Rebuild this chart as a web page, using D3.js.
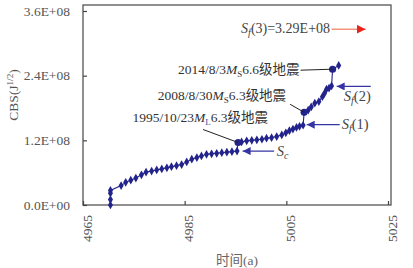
<!DOCTYPE html>
<html>
<head>
<meta charset="utf-8">
<script src="https://cdn.jsdelivr.net/npm/d3@7"></script>
<style>
  body { margin: 0; background: #fff; }
  text { font-family: "Liberation Serif", "Noto Sans CJK SC", serif; }
</style>
</head>
<body>
<div id="chart-area"></div>
<script>
// data (time in a, CBS in J^1/2)
var years = [4970.4, 4970.4, 4970.4, 4970.4, 4972.5, 4973.4, 4974.4, 4975.4, 4976.5, 4977.4,
  4978.5, 4979.5, 4980.5, 4981.5, 4982.4, 4983.4, 4984.4, 4985.4, 4986.4, 4987.4,
  4988.3, 4989.3, 4990.3, 4991.3, 4992.3, 4993.3, 4994.3, 4995.3,
  4995.5, 4996.2, 4997.2, 4998.2, 4999.2, 5000.2, 5001.1, 5002.1, 5003.1, 5004.1,
  5004.9, 5005.6, 5006.3, 5007.0, 5007.6, 5008.3,
  5008.5, 5009.3, 5009.9, 5010.6, 5011.4, 5012.1, 5012.5, 5012.9, 5013.4, 5013.9,
  5014.1, 5015.3];
var cbs = [0, 0.1e8, 0.22e8, 0.27e8, 0.36e8, 0.42e8, 0.46e8, 0.50e8, 0.56e8, 0.61e8,
  0.63e8, 0.65e8, 0.67e8, 0.69e8, 0.71e8, 0.73e8, 0.75e8, 0.80e8, 0.85e8, 0.88e8,
  0.91e8, 0.94e8, 0.95e8, 0.96e8, 0.97e8, 0.98e8, 0.99e8, 1.00e8,
  1.16e8, 1.17e8, 1.19e8, 1.20e8, 1.21e8, 1.22e8, 1.24e8, 1.25e8, 1.27e8, 1.30e8,
  1.34e8, 1.38e8, 1.41e8, 1.44e8, 1.46e8, 1.48e8,
  1.72e8, 1.76e8, 1.82e8, 1.89e8, 1.92e8, 2.01e8, 2.07e8, 2.15e8, 2.17e8, 2.21e8,
  2.52e8, 2.59e8];

// earthquakes (index into the series above)
var quakeIndex = [28, 44, 54];
var quakeDate = ["1995/10/23", "2008/8/30", "2014/8/3"];
var quakeMagType = ["L", "S", "S"];
var quakeMag = ["6.3", "6.3", "6.6"];

// strain levels
var levelNames = ["c", "f(1)", "f(2)"];
var levelValues = [1.00e8, 1.49e8, 2.20e8];
var sf3Value = 3.29e8;
var sf3Text = "3.29E+08";

var xTicks = [4965, 4985, 5005, 5025];
var yTicks = [0, 1.2e8, 2.4e8, 3.6e8];
var yTickLabels = ["0.0E+00", "1.2E+08", "2.4E+08", "3.6E+08"];

var width = 413;
var height = 268;
var navy = "#23238c";

var svg = d3.select("#chart-area")
    .append("svg")
    .attr("width", width)
    .attr("height", height);

var x = d3.scaleLinear().domain([4965, 5025]).range([83, 388]);
var y = d3.scaleLinear().domain([0, 3.6e8]).range([205, 11]);

// frame
svg.append("rect")
    .attr("x", 83).attr("y", 5)
    .attr("width", 308).attr("height", 200)
    .attr("fill", "none")
    .attr("stroke", "#555")
    .attr("stroke-width", 1.3);

// axes
var xAxis = svg.append("g")
    .attr("transform", "translate(0,205)")
    .call(d3.axisBottom(x).tickValues(xTicks).tickSize(-4).tickFormat(d3.format("d")));
xAxis.select(".domain").remove();
xAxis.selectAll("line").attr("stroke", "#444").attr("stroke-width", 1.2);
xAxis.selectAll("text")
    .attr("fill", "#555")
    .attr("font-size", "13.5px")
    .attr("text-anchor", "end")
    .attr("transform", "rotate(-90)")
    .attr("x", -10)
    .attr("y", 3.5)
    .attr("dy", "0.35em");

var yAxis = svg.append("g")
    .attr("transform", "translate(83,0)")
    .call(d3.axisLeft(y).tickValues(yTicks).tickSize(-4).tickFormat((d, i) => yTickLabels[i]));
yAxis.select(".domain").remove();
yAxis.selectAll("line").attr("stroke", "#444").attr("stroke-width", 1.2);
yAxis.selectAll("text")
    .attr("fill", "#555")
    .attr("font-size", "13.5px")
    .attr("x", -13);

// axis titles
var yt = svg.append("text")
    .attr("transform", "translate(18,95) rotate(-90)")
    .attr("text-anchor", "middle")
    .attr("fill", "#555")
    .attr("font-size", "13.5px");
yt.append("tspan").text("CBS(J");
yt.append("tspan").attr("font-size", "9px").attr("dy", -5).text("1/2");
yt.append("tspan").attr("dy", 5).text(")");

svg.append("text")
    .attr("x", 237).attr("y", 265)
    .attr("text-anchor", "middle")
    .attr("fill", "#666")
    .attr("font-size", "13.5px")
    .text("时间(a)");

// arrow heads
var defs = svg.append("defs");
defs.append("marker")
    .attr("id", "headBlue")
    .attr("viewBox", "0 0 10 10")
    .attr("refX", 10).attr("refY", 5)
    .attr("markerWidth", 8).attr("markerHeight", 8)
    .attr("markerUnits", "userSpaceOnUse")
    .attr("orient", "auto")
    .append("path").attr("d", "M0,0L10,5L0,10Z").attr("fill", "#3434a4");
defs.append("marker")
    .attr("id", "headRed")
    .attr("viewBox", "0 0 10 10")
    .attr("refX", 10).attr("refY", 5)
    .attr("markerWidth", 9).attr("markerHeight", 9)
    .attr("markerUnits", "userSpaceOnUse")
    .attr("orient", "auto")
    .append("path").attr("d", "M0,0L10,5L0,10Z").attr("fill", "#e8241c");

// series line + markers
var pts = years.map((d, i) => [d, cbs[i]]);
svg.append("path")
    .datum(pts)
    .attr("fill", "none")
    .attr("stroke", navy)
    .attr("stroke-width", 1.1)
    .attr("d", d3.line().x(d => x(d[0])).y(d => y(d[1])));

svg.selectAll(".pt")
    .data(pts)
    .enter()
    .append("path")
    .attr("class", "pt")
    .attr("transform", d => `translate(${x(d[0])},${y(d[1])})`)
    .attr("d", (d, i) => d3.symbol().type(quakeIndex.includes(i) ? d3.symbolCircle : d3.symbolDiamond)
        .size(quakeIndex.includes(i) ? 40 : 22)())
    .attr("fill", navy);

// level arrows (pointing left to the curve)
var levelArrow = [[4996.4, 5002.6], [5009.0, 5015.5], [5014.9, 5021.6]];
var levelLabel = [[5003.1, -5], [5015.9, -4], [5016.3, -15]];
levelValues.forEach((v, i) => {
    svg.append("line")
        .attr("x1", x(levelArrow[i][1])).attr("x2", x(levelArrow[i][0]))
        .attr("y1", y(v)).attr("y2", y(v))
        .attr("stroke", "#3434a4")
        .attr("stroke-width", 1.2)
        .attr("marker-end", "url(#headBlue)");
    var t = svg.append("text")
        .attr("x", x(levelLabel[i][0]))
        .attr("y", y(v) - levelLabel[i][1])
        .attr("fill", "#444")
        .attr("font-size", "14.5px");
    t.append("tspan").attr("font-style", "italic").text("S");
    var sub = levelNames[i];
    t.append("tspan").attr("font-style", "italic").attr("font-size", "10px").attr("dy", 3).text(sub.charAt(0));
    if (sub.length > 1) {
        t.append("tspan").attr("dy", -3).text(sub.slice(1));
    }
});

// Sf(3) label and arrow
var t3 = svg.append("text")
    .attr("x", x(5013.6)).attr("y", y(sf3Value) + 5)
    .attr("text-anchor", "end")
    .attr("fill", "#444")
    .attr("font-size", "14px");
t3.append("tspan").attr("font-style", "italic").text("S");
t3.append("tspan").attr("font-style", "italic").attr("font-size", "10px").attr("dy", 3).text("f");
t3.append("tspan").attr("dy", -3).text("(3)=" + sf3Text);
svg.append("line")
    .attr("x1", x(5013.9)).attr("x2", x(5020.6))
    .attr("y1", y(sf3Value) + 1.5).attr("y2", y(sf3Value) + 1.5)
    .attr("stroke", "#f2957a")
    .attr("stroke-width", 1.4)
    .attr("marker-end", "url(#headRed)");

// earthquake annotations: text end point and leader start (pixel offsets from the quake point)
var labelEnd = [[30, -20], [-18, -12], [-33, 5]];
var leaderStart = [[-35, -13], [-14, -8], [-32, 1]];
quakeIndex.forEach((qi, i) => {
    var px = x(years[qi]);
    var py = y(cbs[qi]);
    svg.append("line")
        .attr("x1", px + leaderStart[i][0]).attr("y1", py + leaderStart[i][1])
        .attr("x2", px).attr("y2", py)
        .attr("stroke", "#222")
        .attr("stroke-width", 1);
    var t = svg.append("text")
        .attr("x", px + labelEnd[i][0])
        .attr("y", py + labelEnd[i][1])
        .attr("text-anchor", "end")
        .attr("fill", "#333")
        .attr("font-size", "13.5px");
    t.append("tspan").text(quakeDate[i]);
    t.append("tspan").attr("font-style", "italic").text("M");
    t.append("tspan").attr("font-size", "9px").attr("dy", 3)
        .attr("fill", i === 0 ? "#3050a0" : "#333").text(quakeMagType[i]);
    t.append("tspan").attr("dy", -3).text(quakeMag[i] + "级地震");
});
</script>
</body>
</html>
